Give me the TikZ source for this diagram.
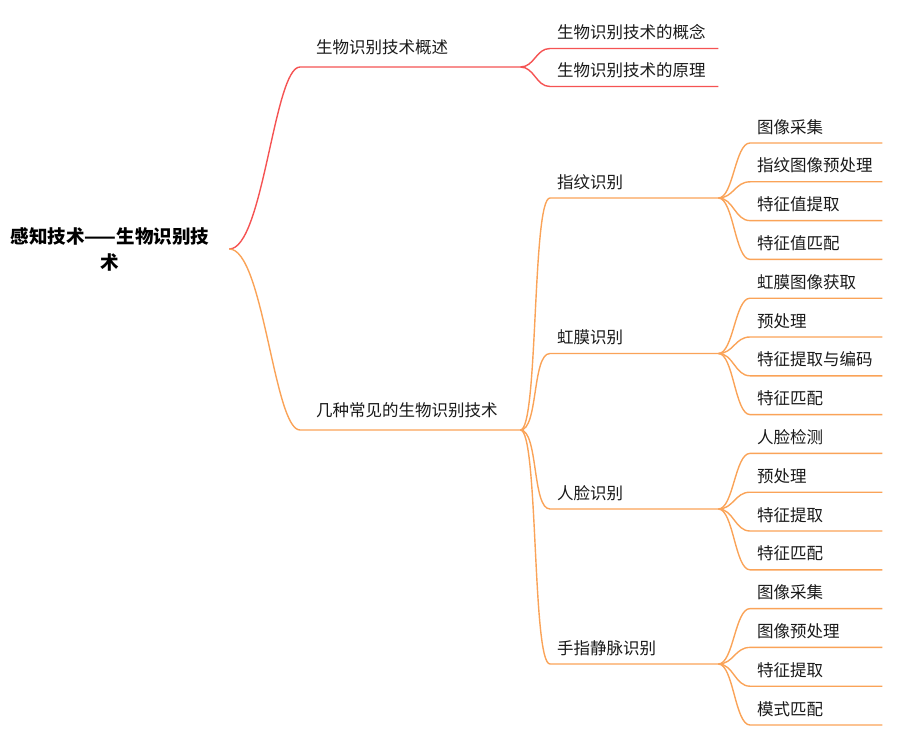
\documentclass[tikz,border=0pt]{standalone}
\usepackage{fontspec}
\setmainfont{Noto Sans CJK SC}
\usetikzlibrary{positioning}
\definecolor{redclr}{RGB}{245,83,83}
\definecolor{orgclr}{RGB}{250,163,88}
\definecolor{txtclr}{RGB}{25,25,25}
\tikzset{
  centre/.style={align=center, inner xsep=20pt, inner ysep=2pt, text=black,
                 font=\fontsize{18.5}{26}\selectfont\bfseries},
  topic/.style={anchor=south west, align=left, text height=12pt, text depth=0pt,
                inner ysep=9.7pt, inner xsep=7pt, text=txtclr,
                font=\fontsize{16.5}{20}\selectfont},
  mainbox/.style={topic, text width=188pt, inner xsep=16pt, inner ysep=13pt},
  subbox/.style={topic, text width=154pt},
  leafbox/.style={topic, text width=118pt},
  redline/.style={draw=redclr, line width=1.4pt},
  orgline/.style={draw=orgclr, line width=1.4pt},
}
\begin{document}
\begin{tikzpicture}[x=1pt, y=-1pt, node distance=7pt]
\useasboundingbox (0,0) rectangle (899,746);

\node[centre] (root) at (110,249) {感知技术——生物识别技\\术};

\node[mainbox] (sum) at (300,67) {生物识别技术概述};
\node[mainbox] (kinds) at (300,430) {几种常见的生物识别技术};

\node[subbox] (idea) at (550,48.5) {生物识别技术的概念};
\node[subbox] (rule) at (550,86.5) {生物识别技术的原理};

\node[subbox] (fp) at (550,198) {指纹识别};
\node[subbox] (iris) at (550,353.5) {虹膜识别};
\node[subbox] (face) at (550,509) {人脸识别};
\node[subbox] (vein) at (550,664) {手指静脉识别};

\node[leafbox] (fp1) at (750,143) {图像采集};
\node[leafbox, below=of fp1] (fp2) {指纹图像预处理};
\node[leafbox, below=of fp2] (fp3) {特征值提取};
\node[leafbox, below=of fp3] (fp4) {特征值匹配};
\node[leafbox, below=of fp4] (ir1) {虹膜图像获取};
\node[leafbox, below=of ir1] (ir2) {预处理};
\node[leafbox, below=of ir2] (ir3) {特征提取与编码};
\node[leafbox, below=of ir3] (ir4) {特征匹配};
\node[leafbox, below=of ir4] (fc1) {人脸检测};
\node[leafbox, below=of fc1] (fc2) {预处理};
\node[leafbox, below=of fc2] (fc3) {特征提取};
\node[leafbox, below=of fc3] (fc4) {特征匹配};
\node[leafbox, below=of fc4] (vn1) {图像采集};
\node[leafbox, below=of vn1] (vn2) {图像预处理};
\node[leafbox, below=of vn2] (vn3) {特征提取};
\node[leafbox, below=of vn3] (vn4) {模式匹配};

\draw[redline] (root.east) .. controls +(34,0) and +(-26,0) .. (sum.south west) -- (sum.south east);
\draw[orgline] (root.east) .. controls +(34,0) and +(-26,0) .. (kinds.south west) -- (kinds.south east);

\draw[redline] (sum.south east) .. controls +(14,0) and +(-14,0) .. (idea.south west) -- (idea.south east);
\draw[redline] (sum.south east) .. controls +(14,0) and +(-14,0) .. (rule.south west) -- (rule.south east);

\draw[orgline] (kinds.south east) .. controls +(18,0) and +(-18,0) .. (fp.south west) -- (fp.south east);
\draw[orgline] (kinds.south east) .. controls +(18,0) and +(-18,0) .. (iris.south west) -- (iris.south east);
\draw[orgline] (kinds.south east) .. controls +(18,0) and +(-18,0) .. (face.south west) -- (face.south east);
\draw[orgline] (kinds.south east) .. controls +(18,0) and +(-18,0) .. (vein.south west) -- (vein.south east);

\draw[orgline] (fp.south east) .. controls +(15,0) and +(-15,0) .. (fp1.south west) -- (fp1.south east);
\draw[orgline] (fp.south east) .. controls +(15,0) and +(-15,0) .. (fp2.south west) -- (fp2.south east);
\draw[orgline] (fp.south east) .. controls +(15,0) and +(-15,0) .. (fp3.south west) -- (fp3.south east);
\draw[orgline] (fp.south east) .. controls +(15,0) and +(-15,0) .. (fp4.south west) -- (fp4.south east);

\draw[orgline] (iris.south east) .. controls +(15,0) and +(-15,0) .. (ir1.south west) -- (ir1.south east);
\draw[orgline] (iris.south east) .. controls +(15,0) and +(-15,0) .. (ir2.south west) -- (ir2.south east);
\draw[orgline] (iris.south east) .. controls +(15,0) and +(-15,0) .. (ir3.south west) -- (ir3.south east);
\draw[orgline] (iris.south east) .. controls +(15,0) and +(-15,0) .. (ir4.south west) -- (ir4.south east);

\draw[orgline] (face.south east) .. controls +(15,0) and +(-15,0) .. (fc1.south west) -- (fc1.south east);
\draw[orgline] (face.south east) .. controls +(15,0) and +(-15,0) .. (fc2.south west) -- (fc2.south east);
\draw[orgline] (face.south east) .. controls +(15,0) and +(-15,0) .. (fc3.south west) -- (fc3.south east);
\draw[orgline] (face.south east) .. controls +(15,0) and +(-15,0) .. (fc4.south west) -- (fc4.south east);

\draw[orgline] (vein.south east) .. controls +(15,0) and +(-15,0) .. (vn1.south west) -- (vn1.south east);
\draw[orgline] (vein.south east) .. controls +(15,0) and +(-15,0) .. (vn2.south west) -- (vn2.south east);
\draw[orgline] (vein.south east) .. controls +(15,0) and +(-15,0) .. (vn3.south west) -- (vn3.south east);
\draw[orgline] (vein.south east) .. controls +(15,0) and +(-15,0) .. (vn4.south west) -- (vn4.south east);
\end{tikzpicture}
\end{document}
